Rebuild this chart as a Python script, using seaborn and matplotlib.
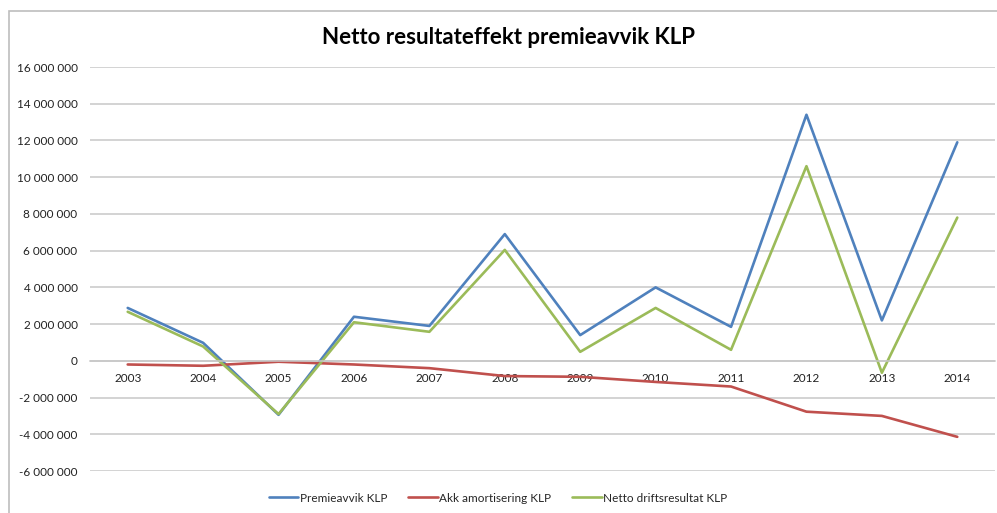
import matplotlib
matplotlib.use("Agg")
import matplotlib.pyplot as plt
import matplotlib.ticker as mticker
import seaborn as sns
import pandas as pd

years = [2003, 2004, 2005, 2006, 2007, 2008, 2009, 2010, 2011, 2012, 2013, 2014]
premieavvik = [2880000, 980000, -2940000, 2400000, 1900000, 6900000, 1400000, 4000000, 1850000, 13400000, 2200000, 11900000]
akk_amortisering = [-200000, -270000, -50000, -200000, -400000, -830000, -870000, -1150000, -1400000, -2770000, -3000000, -4140000]
netto_drift = [2670000, 780000, -2900000, 2100000, 1580000, 6040000, 490000, 2880000, 600000, 10600000, -650000, 7800000]
series_names = ["Premieavvik KLP", "Akk amortisering KLP", "Netto driftsresultat KLP"]
colors = ["#4F81BD", "#C0504D", "#9BBB59"]
yticks = list(range(-6000000, 16000001, 2000000))

df = pd.concat([
    pd.DataFrame({"År": years, "Verdi": vals, "Serie": name})
    for name, vals in zip(series_names, [premieavvik, akk_amortisering, netto_drift])
])

sns.set_theme(style="white")
plt.rcParams["font.family"] = ["Lato", "DejaVu Sans"]

fig = plt.figure(figsize=(9.97, 5.13), dpi=100)
ax = fig.add_axes([90/997, 42/513, 905/997, 404/513])

# chart border
fig.add_artist(plt.Rectangle((9/997, -0.1), 1.2, (513-11)/513 + 0.1, transform=fig.transFigure,
                             fill=False, edgecolor="#BDBDBD", linewidth=1.2))

sns.lineplot(data=df, x="År", y="Verdi", hue="Serie", palette=colors, linewidth=1.9,
             ax=ax, legend=True, sort=False)

ax.set_xlim(2002.5, 2014.5)
ax.set_ylim(-6000000, 16000000)
ax.set_yticks(yticks)
ax.yaxis.set_major_formatter(mticker.FuncFormatter(lambda v, p: f"{int(v):,}".replace(",", " ")))
ax.set_xticks(years)
ax.set_xticklabels([str(y) for y in years])
ax.grid(axis="y", color="#C8C8C8", linewidth=1.1)
ax.grid(axis="x", visible=False)
ax.set_axisbelow(True)
for s in ["top", "right", "left"]:
    ax.spines[s].set_visible(False)
ax.spines["bottom"].set_position(("data", 0))
ax.spines["bottom"].set_color("#C8C8C8")
ax.spines["bottom"].set_linewidth(1.1)
ax.tick_params(axis="y", length=0, pad=9, labelsize=8.5, labelcolor="#222222")
ax.tick_params(axis="x", length=0, pad=9, labelsize=8.5, labelcolor="#222222")
ax.set_xlabel("")
ax.set_ylabel("")

fig.suptitle("Netto resultateffekt premieavvik KLP", x=0.51, y=1 - 37/513, va="center",
             fontsize=16, fontweight="bold", color="black")

h, l = ax.get_legend_handles_labels()
ax.get_legend().remove()
fig.legend(h, l, loc="center", bbox_to_anchor=(498/997, 15/513), ncol=3, frameon=False,
           fontsize=8.5, handlelength=2.5, handletextpad=0.1, columnspacing=1.8)

fig.savefig("out.png", dpi=100)
